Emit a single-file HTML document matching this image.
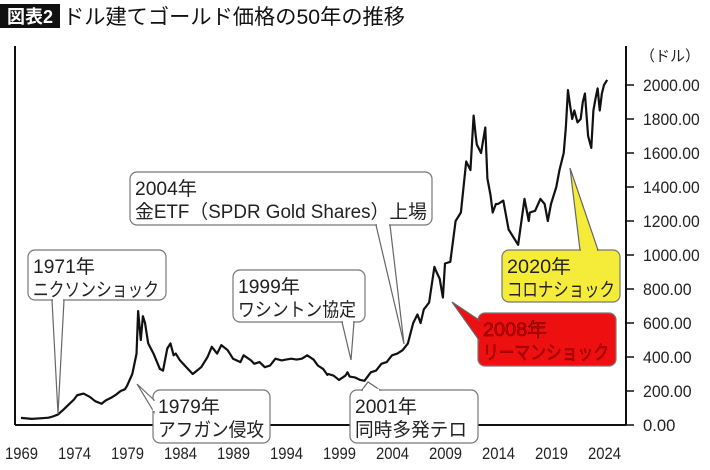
<!DOCTYPE html>
<html><head><meta charset="utf-8"><style>
body{margin:0;background:#fff;width:710px;height:470px;overflow:hidden}
svg{display:block;font-family:"Liberation Sans","Noto Sans CJK JP",sans-serif}
</style></head><body>
<svg id="chart" width="710" height="470">
<rect x="0" y="4" width="60" height="24" fill="#111"/>
<text x="30" y="23" fill="#fff" font-size="18" font-weight="bold" text-anchor="middle">図表2</text>
<text x="63" y="24" font-size="21" fill="#111" textLength="342" lengthAdjust="spacingAndGlyphs">ドル建てゴールド価格の50年の推移</text>
<text x="640" y="61" font-size="15" fill="#222">（ドル）</text>
<g id="axes"></g>
<g id="series"></g>
<g id="notes"></g>
</svg>
<script>
const years=[1969,1970,1971,1971.6,1972,1972.5,1973,1973.5,1974,1974.3,1974.9,1975.5,1976,1976.6,1977,1977.5,1978,1978.4,1978.8,1979,1979.5,1979.9,1980.05,1980.3,1980.5,1980.7,1981,1981.5,1982.1,1982.4,1982.8,1983.1,1983.4,1983.6,1984,1984.6,1985.2,1985.6,1986,1986.6,1987,1987.5,1987.9,1988.5,1989,1989.7,1990,1990.7,1991,1991.5,1992,1992.5,1993,1993.6,1994,1994.5,1995,1995.5,1996,1996.6,1997,1997.5,1997.9,1998,1998.5,1999,1999.6,1999.8,2000,2000.5,2001,2001.4,2002,2002.5,2003,2003.5,2004,2004.5,2005,2005.5,2006,2006.4,2006.7,2007,2007.5,2008,2008.2,2008.5,2008.8,2009,2009.5,2010,2010.5,2011,2011.4,2011.7,2011.9,2012,2012.4,2012.8,2013,2013.3,2013.5,2013.8,2014,2014.5,2015,2015.5,2015.9,2016.5,2016.9,2017,2017.5,2018,2018.4,2018.7,2019,2019.5,2019.8,2020.2,2020.4,2020.6,2020.8,2021,2021.2,2021.5,2021.8,2022,2022.2,2022.5,2022.8,2023,2023.2,2023.4,2023.6,2023.8,2024,2024.3];
const prices=[42,36,40,43,50,62,90,120,150,175,185,165,140,125,145,160,180,200,210,230,300,420,670,500,640,600,480,420,330,320,450,480,410,420,380,340,300,320,340,400,460,420,470,440,390,370,410,380,360,370,340,350,390,380,385,390,385,390,410,385,350,330,295,300,290,265,290,310,285,280,265,260,310,320,360,370,410,420,440,480,600,650,600,680,720,930,900,860,750,950,960,1200,1250,1550,1500,1820,1700,1650,1600,1750,1450,1350,1250,1300,1300,1320,1150,1100,1060,1330,1200,1250,1260,1330,1300,1200,1300,1400,1500,1600,1750,1970,1880,1800,1850,1780,1800,1900,1950,1700,1630,1850,1920,1980,1850,1950,2000,2030,2050];
const yTicks=[0,200,400,600,800,1000,1200,1400,1600,1800,2000];
const xTicks=[1969,1974,1979,1984,1989,1994,1999,2004,2009,2014,2019,2024];
const X=y=>21+(y-1969)*10.6;
const Y=v=>425-v*0.17;
const NS="http://www.w3.org/2000/svg";
function mk(tag,attrs,parent,txt){const e=document.createElementNS(NS,tag);for(const k in attrs)e.setAttribute(k,attrs[k]);if(txt!==undefined)e.textContent=txt;parent.appendChild(e);return e;}
const ax=document.getElementById('axes');
let l=mk('line',{x1:15,y1:46,x2:15,y2:425,stroke:'#111','stroke-width':2},ax);


l=mk('line',{x1:15,y1:425,x2:626,y2:425,stroke:'#111','stroke-width':2},ax);


l=mk('line',{x1:626,y1:46,x2:626,y2:425,stroke:'#111','stroke-width':2},ax);


yTicks.forEach(v=>{
 const t=mk('line',{x1:626,y1:Y(v),x2:634,y2:Y(v),stroke:'#111','stroke-width':1.5},ax);
 
 
 const s=v.toFixed(2);
 const tx=mk('text',{x:643,y:Y(v)+6,'font-size':17,fill:'#222',textLength:s.length*8.1,lengthAdjust:'spacingAndGlyphs'},ax,s);
 
 
});
xTicks.forEach(v=>{
 const tx=mk('text',{x:X(v)-16,y:459,'font-size':17,fill:'#222',textLength:33,lengthAdjust:'spacingAndGlyphs'},ax,String(v));
 
 
});
const p=mk('polyline',{points:years.map((y,i)=>X(y)+','+Y(prices[i])).join(' '),fill:'none',stroke:'#111','stroke-width':2.2,'stroke-linejoin':'round'},document.getElementById('series'));


const notes=[
 {n:'note-1971',x:28,y:250,w:138,h:50,t1:'1971年',t2:'ニクソンショック',l1:62,l2:126,px:58,py:414,bx1:52,bx2:64,by:300,fill:'#fff',c:'#222'},
 {n:'note-1979',x:153,y:390,w:117,h:53,t1:'1979年',t2:'アフガン侵攻',l1:62,l2:106,px:137,py:384,bx1:153,bx2:153,by:400,by2:412,fill:'#fff',c:'#222'},
 {n:'note-2004',x:130,y:172,w:302,h:53,t1:'2004年',t2:'金ETF（SPDR Gold Shares）上場',l1:62,l2:292,px:404,py:344,bx1:376,bx2:390,by:225,fill:'#fff',c:'#222'},
 {n:'note-1999',x:233,y:270,w:132,h:52,t1:'1999年',t2:'ワシントン協定',l1:62,l2:118,px:351,py:360,bx1:342,bx2:354,by:322,fill:'#fff',c:'#222'},
 {n:'note-2001',x:350,y:390,w:128,h:53,t1:'2001年',t2:'同時多発テロ',l1:62,l2:112,px:368,py:382,bx1:362,bx2:380,by:390,fill:'#fff',c:'#222'},
 {n:'note-2020',x:502,y:250,w:118,h:52,t1:'2020年',t2:'コロナショック',l1:64,l2:108,px:570,py:168,bx1:580,bx2:598,by:250,fill:'#f5ec3a',c:'#222'},
 {n:'note-2008',x:478,y:313,w:138,h:53,t1:'2008年',t2:'リーマンショック',l1:64,l2:126,px:452,py:302,bx1:478,bx2:478,by:320,by2:340,fill:'#ee1010',c:'#d00000'}
];
const ng=document.getElementById('notes');
notes.forEach(o=>{
 const g=mk('g',{},ng);
 
 
 let pts;
 if(o.by2!==undefined) pts=`${o.x+1},${o.by} ${o.px},${o.py} ${o.x+1},${o.by2}`;
 else pts=`${o.bx1},${o.by} ${o.px},${o.py} ${o.bx2},${o.by}`;
 mk('rect',{x:o.x,y:o.y,width:o.w,height:o.h,rx:7,fill:o.fill,stroke:'#777','stroke-width':1.2},g);
 mk('polygon',{points:pts,fill:o.fill,stroke:'#666','stroke-width':1.2},g);
 if(o.by2!==undefined) mk('line',{x1:o.x+1,y1:o.by+1,x2:o.x+1,y2:o.by2-1,stroke:o.fill,'stroke-width':2.5},g);
 else mk('line',{x1:o.bx1+1,y1:o.by,x2:o.bx2-1,y2:o.by,stroke:o.fill,'stroke-width':2.5},g);
 const st=o.fill==='#ee1010'?{stroke:'#600','stroke-width':0.5}:{};
 mk('text',Object.assign({x:o.x+5,y:o.y+23,'font-size':19,fill:o.c,textLength:o.l1,lengthAdjust:'spacingAndGlyphs'},st),g,o.t1);
 mk('text',Object.assign({x:o.x+5,y:o.y+46,'font-size':19,fill:o.c,textLength:o.l2,lengthAdjust:'spacingAndGlyphs'},st),g,o.t2);
});
</script>
</body></html>
